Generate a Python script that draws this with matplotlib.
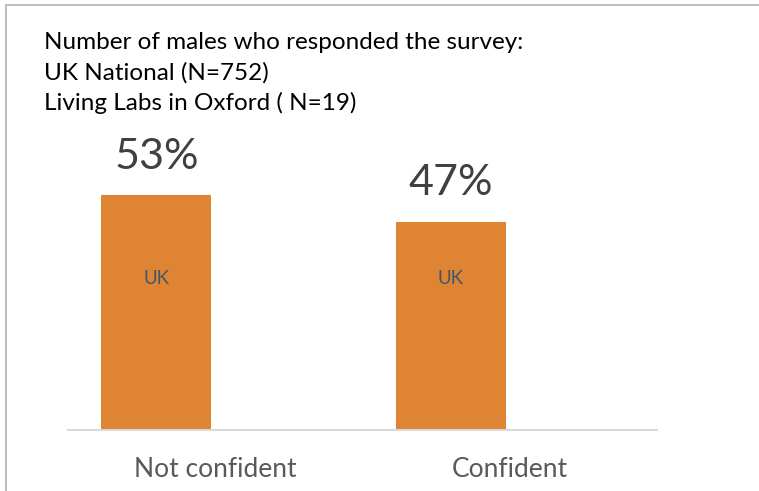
import matplotlib
matplotlib.use("Agg")
import matplotlib.pyplot as plt
from matplotlib.lines import Line2D

plt.rcParams['font.family'] = ['Lato', 'DejaVu Sans']

categories = ["Not confident", "Confident"]
uk_values = [53, 47]
series_name = "UK"
title_lines = [
    "Number of males who responded the survey:",
    "UK National (N=752)",
    "Living Labs in Oxford ( N=19)",
]

W, H = 759, 491
fig = plt.figure(figsize=(W / 100, H / 100), dpi=100)

# plot area in pixel terms: baseline at y=429.5, x from 68 to 657
px_per_unit = 4.42
ymax = 60
ax_left, ax_right, ax_base = 68, 657, 429.5
ax_h = ymax * px_per_unit
ax = fig.add_axes([ax_left / W, (H - ax_base) / H, (ax_right - ax_left) / W, ax_h / H])

x = list(range(len(categories)))
offset = -0.2
bar_w = 0.373
bar_x = [xi + offset for xi in x]
bars = ax.bar(bar_x, uk_values, width=bar_w, color='#DF8432', zorder=2)

ax.set_xlim(-0.5, len(categories) - 0.5)
ax.set_ylim(0, ymax)

# series label sits at a fixed height inside every bar
label_y = (ax_base - 279) / px_per_unit
for b, v in zip(bars, uk_values):
    cx = b.get_x() + b.get_width() / 2
    ax.text(cx, v + 6, f"{v}%", ha='center', va='baseline', fontsize=31,
            color='#404040', clip_on=False)
    ax.text(cx, label_y, series_name, ha='center', va='center', fontsize=13.5,
            color='#44546A')

for spine in ['top', 'right', 'left']:
    ax.spines[spine].set_visible(False)
ax.spines['bottom'].set_color('#D9D9D9')
ax.spines['bottom'].set_linewidth(1.5)
ax.set_yticks([])
ax.set_xticks(x)
ax.set_xticklabels(categories, fontsize=19, color='#595959')
ax.tick_params(axis='x', length=0, pad=20)

# title block
for i, line in enumerate(title_lines):
    fig.text(44 / W, 1 - (49 + i * 30.5) / H, line, ha='left', va='baseline',
             fontsize=17.5, color='black')

# chart frame (only top and left edges fall inside the image)
fig.add_artist(Line2D([6 / W, 6 / W], [0, 1 - 4.5 / H], color='#BFBFBF', lw=1.5))
fig.add_artist(Line2D([6 / W, 1], [1 - 4.5 / H, 1 - 4.5 / H], color='#BFBFBF', lw=1.5))

fig.savefig("out.png", dpi=100, facecolor='white')
